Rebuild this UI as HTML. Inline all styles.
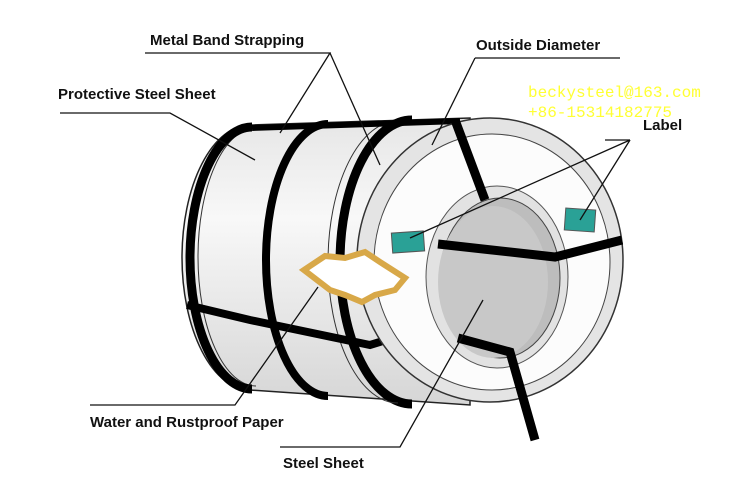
<!DOCTYPE html>
<html><head><style>
html,body{margin:0;padding:0;background:#fff;}
svg{display:block}
text{font-family:"Liberation Sans",sans-serif;font-weight:bold;font-size:15px;fill:#111}
.w{font-family:"Liberation Mono",monospace;font-weight:normal;font-size:16px;fill:#ffff33}
</style></head><body>
<svg width="750" height="500" viewBox="0 0 750 500">
<defs>
<linearGradient id="body" x1="0" y1="0" x2="0" y2="1">
<stop offset="0" stop-color="#e6e6e6"/><stop offset="0.35" stop-color="#f8f8f8"/><stop offset="1" stop-color="#d6d6d6"/>
</linearGradient>
</defs>
<!-- body -->
<path d="M250,125 L470,118 L470,405 L250,390 A68,132.5 0 0 1 250,125 Z" fill="url(#body)" stroke="#222" stroke-width="1.5"/>
<path d="M256,128 A58,129 0 0 0 256,386" fill="none" stroke="#333" stroke-width="1"/>
<!-- circumferential bands -->
<path d="M252,127 A62,131 0 0 0 252,389" fill="none" stroke="#000" stroke-width="9"/>
<path d="M328,124 A62,136 0 0 0 328,396" fill="none" stroke="#000" stroke-width="8"/>
<path d="M412,120 A72,142 0 0 0 412,404" fill="none" stroke="#000" stroke-width="9"/>
<path d="M398,121 A70,141 0 0 0 398,403" fill="none" stroke="#333" stroke-width="1"/>
<!-- horizontal bands -->
<path d="M252,128 L460,121" stroke="#000" stroke-width="6"/>
<path d="M187,305 L250,320 L370,345 L445,322" fill="none" stroke="#000" stroke-width="8"/>
<!-- front face -->
<ellipse cx="490" cy="260" rx="133" ry="142" fill="#e4e4e4" stroke="#333" stroke-width="1.5"/>
<ellipse cx="492" cy="262" rx="118" ry="128" fill="#fcfcfc" stroke="#444" stroke-width="1"/>
<ellipse cx="497" cy="277" rx="71" ry="91" fill="#e2e2e2" stroke="#555" stroke-width="1"/>
<ellipse cx="500" cy="278" rx="60" ry="80" fill="#bdbdbd" stroke="#444" stroke-width="1"/>
<ellipse cx="493" cy="282" rx="55" ry="76" fill="#c8c8c8"/>
<!-- front straps -->
<path d="M455,120 L485,200" stroke="#000" stroke-width="9"/>
<path d="M438,244 L555,257 L622,240" fill="none" stroke="#000" stroke-width="9"/>
<path d="M458,338 L510,352 L535,440" fill="none" stroke="#000" stroke-width="9"/>
<!-- labels -->
<rect x="392" y="232" width="32" height="20" fill="#2aa196" stroke="#555" transform="rotate(-4 408 242)"/>
<rect x="565" y="209" width="30" height="22" fill="#2aa196" stroke="#555" transform="rotate(4 580 220)"/>
<!-- paper -->
<path d="M304,270 L325,256 L345,258 L365,252 L380,262 L405,278 L395,290 L375,295 L362,302 L345,295 L330,290 Z" fill="#fff" stroke="#d8a848" stroke-width="6"/>
<!-- leader lines -->
<g stroke="#111" stroke-width="1.3" fill="none">
<path d="M60,113 L170,113 L255,160"/>
<path d="M145,53 L330,53 L280,133"/>
<path d="M330,53 L380,165"/>
<path d="M475,58 L620,58"/><path d="M475,58 L432,145"/>
<path d="M630,140 L605,140"/>
<path d="M630,140 L410,238"/><path d="M630,140 L580,220"/>
<path d="M90,405 L235,405 L318,287"/>
<path d="M280,447 L400,447 L483,300"/>
</g>
<text x="150" y="45">Metal Band Strapping</text>
<text x="58" y="99">Protective Steel Sheet</text>
<text x="476" y="50">Outside Diameter</text>
<text x="643" y="130">Label</text>
<text x="90" y="427">Water and Rustproof Paper</text>
<text x="283" y="468">Steel Sheet</text>
<text class="w" x="528" y="97">beckysteel@163.com</text>
<text class="w" x="528" y="117">+86-15314182775</text>
</svg>
</body></html>
